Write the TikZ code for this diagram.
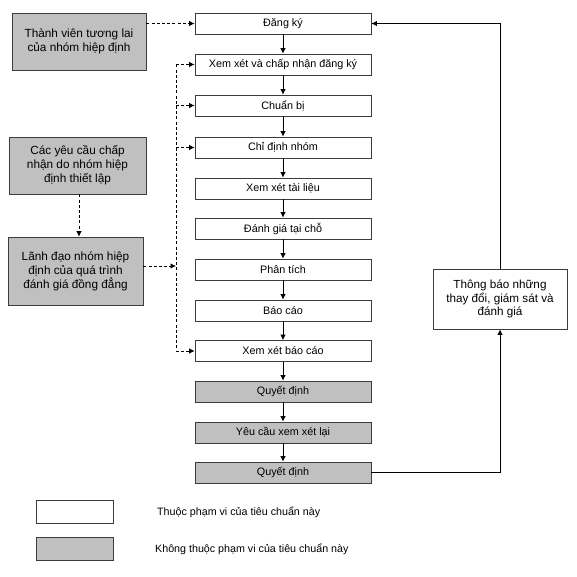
\documentclass[tikz,border=0pt]{standalone}
\usepackage{fontspec}
\setmainfont{Liberation Sans}
\usetikzlibrary{arrows.meta}
\definecolor{boxgray}{RGB}{192,192,192}
\definecolor{linegray}{RGB}{60,60,60}
\tikzset{
  base/.style={draw=linegray, line width=0.8pt, inner sep=1pt, align=center},
  mainbox/.style={base, fill=white, minimum width=176pt, minimum height=21pt, font=\fontsize{10.8}{13}\selectfont},
  graybox/.style={mainbox, fill=boxgray},
  sidebox/.style={base, fill=boxgray, font=\fontsize{11.8}{14}\selectfont},
  notebox/.style={base, fill=white, minimum width=134pt, minimum height=60pt, font=\fontsize{11.7}{13.5}\selectfont},
  legbox/.style={base, minimum width=77pt, minimum height=23pt},
  legtext/.style={anchor=west, inner sep=0pt, font=\fontsize{10.7}{13}\selectfont},
  arr/.style={-{Latex[length=5.5pt,width=5.5pt]}, line width=0.8pt, draw=black},
  darr/.style={arr, dash pattern=on 3pt off 2.2pt},
  dline/.style={line width=0.8pt, dash pattern=on 3pt off 2.2pt},
}
\begin{document}
\begin{tikzpicture}[x=1pt,y=-1pt]
\useasboundingbox (0,0) rectangle (576,577);
% central column
\node[mainbox] (n1) at (283,23.5) {Đăng ký};
\node[mainbox] (n2) at (283,64.5) {Xem xét và chấp nhận đăng ký};
\node[mainbox] (n3) at (283,105.5) {Chuẩn bị};
\node[mainbox] (n4) at (283,147.5) {Chỉ định nhóm};
\node[mainbox] (n5) at (283,188.5) {Xem xét tài liệu};
\node[mainbox] (n6) at (283,228.5) {Đánh giá tại chỗ};
\node[mainbox] (n7) at (283,269.5) {Phân tích};
\node[mainbox] (n8) at (283,310.5) {Báo cáo};
\node[mainbox] (n9) at (283,351) {Xem xét báo cáo};
\node[graybox] (n10) at (283,391.5) {Quyết định};
\node[graybox] (n11) at (283,432.5) {Yêu cầu xem xét lại};
\node[graybox] (n12) at (283,472.5) {Quyết định};
\foreach \a/\b in {n1/n2,n2/n3,n3/n4,n4/n5,n5/n6,n6/n7,n7/n8,n8/n9,n9/n10,n10/n11,n11/n12}
  \draw[arr] (\a.south) -- (\b.north);
% left boxes
\node[sidebox, minimum width=134pt, minimum height=57pt] (l1) at (79,41.5) {Thành viên tương lai\\của nhóm hiệp định};
\node[sidebox, minimum width=137pt, minimum height=57pt] (l2) at (77.5,165.5) {Các yêu cầu chấp\\nhận do nhóm hiệp\\định thiết lập};
\node[sidebox, minimum width=135pt, minimum height=68pt] (l3) at (75.5,271) {Lãnh đạo nhóm hiệp\\định của quá trình\\đánh giá đồng đẳng};
\draw[darr] (l1.east |- n1.west) -- (n1.west);
\draw[darr] (l2.south -| 79,0) -- (l3.north -| 79,0);
% dashed bus
\coordinate (dtop) at (176,64.5);
\coordinate (dbot) at (176,351);
\draw[dline] (dtop) -- (dbot);
\draw[darr] (dtop) -- (n2.west);
\draw[darr] (n3.west -| dtop) -- (n3.west);
\draw[darr] (n4.west -| dtop) -- (n4.west);
\draw[darr] (dbot) -- (n9.west);
\draw[darr] (l3.east |- 0,266) -- (dtop |- 0,266);
% right note
\node[notebox] (r1) at (500,299) {Thông báo những\\thay đổi, giám sát và\\đánh giá};
\draw[arr] (n12.east) -| (r1.south);
\draw[arr] (r1.north) |- (n1.east);
% legend
\node[legbox, fill=white] (g1) at (74.5,511.5) {};
\node[legbox, fill=boxgray] (g2) at (74.5,549) {};
\node[legtext] (t1) at (157,512) {Thuộc phạm vi của tiêu chuẩn này};
\node[legtext] (t2) at (155,549) {Không thuộc phạm vi của tiêu chuẩn này};
\end{tikzpicture}
\end{document}
